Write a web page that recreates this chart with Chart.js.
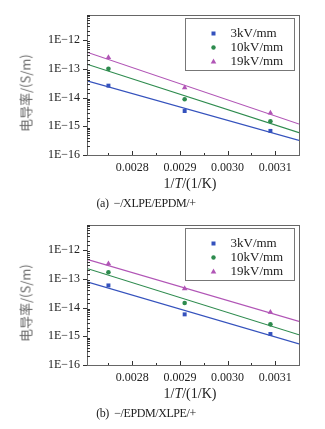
<!DOCTYPE html>
<html>
<head>
<meta charset="utf-8">
<script src="https://cdn.jsdelivr.net/npm/chart.js@4/dist/chart.umd.min.js"></script>
<style>
  html, body { margin: 0; padding: 0; background: #fff; }
  body { width: 325px; height: 429px; position: relative; overflow: hidden; }
  .block { position: absolute; left: 0; width: 325px; height: 210px; }
  .block canvas { position: absolute; left: 0; top: 0; }
  .ytitle { position: absolute; left: 25px; top: 93px; transform: translate(-50%, -50%) rotate(-90deg);
            font: 13px "Noto Sans CJK SC", sans-serif; color: #666; white-space: nowrap; }
  .xtitle { position: absolute; left: 190px; top: 184px; transform: translate(-50%, -50%);
            font: 14px "Liberation Serif", serif; color: #222; white-space: nowrap; }
  .caption { position: absolute; left: 146px; top: 203px; transform: translate(-50%, -50%);
             font: 12px "Liberation Serif", serif; letter-spacing: -0.4px; color: #222; white-space: nowrap; }
</style>
</head>
<body>
<div class="block" style="top:0">
  <canvas id="chartA" width="325" height="210"></canvas>
  <div class="ytitle">电导率/(S/m)</div>
  <div class="xtitle">1/<i>T</i>/(1/K)</div>
  <div class="caption">(a)&nbsp;&nbsp;−/XLPE/EPDM/+</div>
</div>
<div class="block" style="top:210px">
  <canvas id="chartB" width="325" height="210"></canvas>
  <div class="ytitle">电导率/(S/m)</div>
  <div class="xtitle">1/<i>T</i>/(1/K)</div>
  <div class="caption">(b)&nbsp;&nbsp;−/EPDM/XLPE/+</div>
</div>
<script>
// 1/T values of the measured points
const invT = [0.00275, 0.00291, 0.00309];
// x values where the fitted lines start and end
const fitX = [0.002705, 0.00315];

const seriesNames = ['3kV/mm', '10kV/mm', '19kV/mm'];
const colors = ['#3552bd', '#2e8b4e', '#b155b6'];
const pointStyles = ['rect', 'circle', 'triangle'];

// (a) -/XLPE/EPDM/+
const a3 = [2.6e-14, 3.4e-15, 6.9e-16];
const a10 = [1.0e-13, 8.7e-15, 1.5e-15];
const a19 = [2.5e-13, 2.2e-14, 2.9e-15];
const fitA3 = [3.8e-14, 3.2e-16];
const fitA10 = [1.45e-13, 6.0e-16];
const fitA19 = [3.8e-13, 1.2e-15];

// (b) -/EPDM/XLPE/+
const b3 = [5.9e-14, 5.8e-15, 1.2e-15];
const b10 = [1.7e-13, 1.45e-14, 2.6e-15];
const b19 = [3.4e-13, 4.6e-14, 6.9e-15];
const fitB3 = [7.8e-14, 5.4e-16];
const fitB10 = [2.3e-13, 1.13e-15];
const fitB19 = [4.8e-13, 3.3e-15];

const yMin = 1e-16;
const yMax = 7.5e-12;

function isDecade(v) {
  const l = Math.log10(v);
  return Math.abs(l - Math.round(l)) < 1e-6;
}

function toPts(xs, ys) {
  return xs.map((x, i) => ({ x: x, y: ys[i] }));
}

// frame, inward ticks and boxed legend
const framePlugin = {
  id: 'frame',
  afterDraw(chart) {
    const ctx = chart.ctx;
    const a = chart.chartArea;
    const xs = chart.scales.x, ys = chart.scales.y;
    ctx.save();
    ctx.strokeStyle = '#666';
    ctx.lineWidth = 1;
    ctx.strokeRect(Math.round(a.left) + 0.5, Math.round(a.top) + 0.5,
                   Math.round(a.right - a.left), Math.round(a.bottom - a.top));
    ctx.strokeStyle = '#333';
    ctx.beginPath();
    ys.ticks.forEach(t => {
      const py = Math.round(ys.getPixelForValue(t.value)) + 0.5;
      if (isDecade(t.value)) {
        ctx.moveTo(a.left - 4, py); ctx.lineTo(a.left, py);
      } else {
        ctx.moveTo(a.left, py); ctx.lineTo(a.left + 3, py);
      }
    });
    xs.ticks.forEach(t => {
      const px = Math.round(xs.getPixelForValue(t.value)) + 0.5;
      ctx.moveTo(px, a.bottom); ctx.lineTo(px, a.bottom - 4);
      [-0.00005, 0.00005].forEach(d => {
        const v = t.value + d;
        if (v > xs.min && v < xs.max) {
          const pm = Math.round(xs.getPixelForValue(v)) + 0.5;
          ctx.moveTo(pm, a.bottom); ctx.lineTo(pm, a.bottom - 2);
        }
      });
    });
    ctx.stroke();

    // legend
    const bx = Math.round(a.right) - 114 + 0.5, by = Math.round(a.top) + 3 + 0.5;
    const bw = 109, bh = 52;
    ctx.strokeStyle = '#777';
    ctx.strokeRect(bx, by, bw, bh);
    ctx.font = '13px "Liberation Serif", serif';
    ctx.textBaseline = 'middle';
    const items = chart.data.datasets.filter(d => !d.showLine);
    items.forEach((d, i) => {
      const cy = by + 15 + i * 14;
      const cx = bx + 28;
      ctx.fillStyle = d.backgroundColor;
      ctx.beginPath();
      if (d.pointStyle === 'rect') {
        ctx.rect(cx - 2, cy - 2, 4, 4);
      } else if (d.pointStyle === 'circle') {
        ctx.arc(cx, cy, 2.2, 0, Math.PI * 2);
      } else {
        ctx.moveTo(cx, cy - 3); ctx.lineTo(cx + 2.8, cy + 2); ctx.lineTo(cx - 2.8, cy + 2);
        ctx.closePath();
      }
      ctx.fill();
      ctx.fillStyle = '#222';
      ctx.fillText(d.label, bx + 45, cy + 0.5);
    });
    ctx.restore();
  }
};

function makeChart(id, pts, fits) {
  const datasets = [];
  pts.forEach((ys, i) => {
    datasets.push({
      label: seriesNames[i],
      data: toPts(invT, ys),
      showLine: false,
      pointStyle: pointStyles[i],
      pointRadius: i === 2 ? 3.2 : (i === 0 ? 2.8 : 2.3),
      backgroundColor: colors[i],
      borderColor: colors[i],
      borderWidth: 0
    });
  });
  fits.forEach((ys, i) => {
    datasets.push({
      label: seriesNames[i] + ' fit',
      data: toPts(fitX, ys),
      showLine: true,
      pointRadius: 0,
      borderColor: colors[i],
      borderWidth: 1.2,
      fill: false
    });
  });
  return new Chart(document.getElementById(id).getContext('2d'), {
    type: 'scatter',
    data: { datasets: datasets },
    options: {
      responsive: false,
      animation: false,
      layout: { padding: { top: 15, right: 26, left: 0, bottom: 0 } },
      plugins: { legend: { display: false }, tooltip: { enabled: false } },
      scales: {
        x: {
          type: 'linear',
          min: fitX[0],
          max: fitX[1],
          grid: { display: false, drawTicks: false },
          border: { display: false },
          afterFit: s => { s.height = 55; },
          ticks: {
            stepSize: 0.0001,
            includeBounds: false,
            padding: 6,
            maxRotation: 0,
            autoSkip: false,
            color: '#222',
            font: { family: 'Liberation Serif', size: 12 },
            callback: v => v.toFixed(4)
          }
        },
        y: {
          type: 'logarithmic',
          min: yMin,
          max: yMax,
          grid: { display: false, drawTicks: false },
          border: { display: false },
          afterFit: s => { s.width = 87; },
          ticks: {
            autoSkip: false,
            padding: 7,
            color: '#222',
            font: { family: 'Liberation Serif', size: 12 },
            callback: v => isDecade(v) ? '1E\u2212' + Math.abs(Math.round(Math.log10(v))) : ''
          }
        }
      }
    },
    plugins: [framePlugin]
  });
}

makeChart('chartA', [a3, a10, a19], [fitA3, fitA10, fitA19]);
makeChart('chartB', [b3, b10, b19], [fitB3, fitB10, fitB19]);
</script>
</body>
</html>
